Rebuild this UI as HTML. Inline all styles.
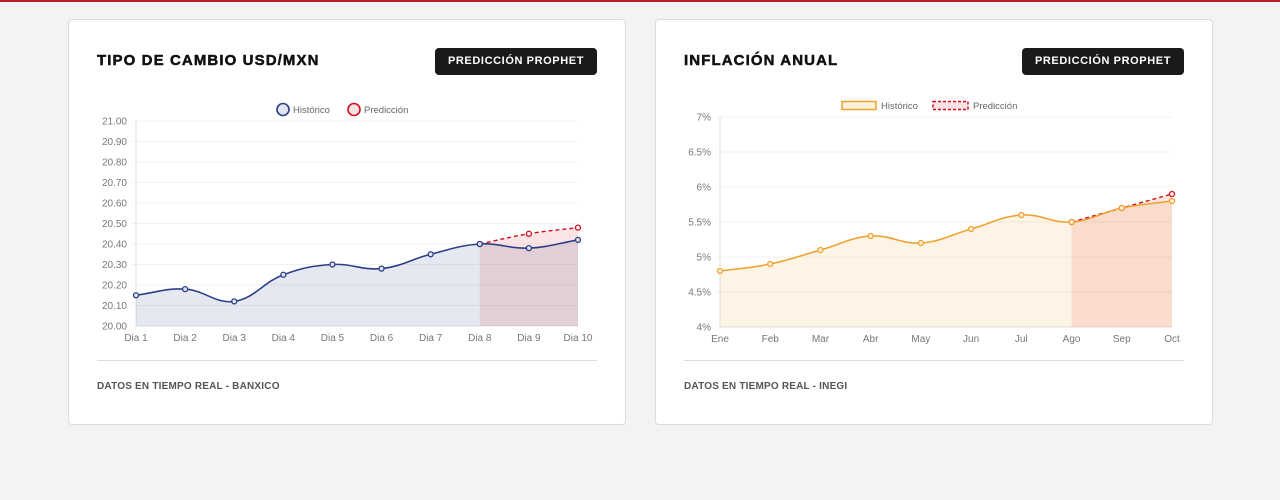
<!DOCTYPE html>
<html><head><meta charset="utf-8"><style>
body{margin:0;width:1280px;height:500px;background:#f3f3f3;font-family:"Liberation Sans",sans-serif;position:relative;overflow:hidden}
.topbar{position:absolute;left:0;top:0;width:1280px;height:2px;background:#b3202a}
.card{position:absolute;top:19px;width:556px;height:404px;background:#fff;border:1px solid #dcdcdc;border-radius:4px}
.title{position:absolute;left:28px;top:32px;font-weight:bold;font-size:15px;letter-spacing:1.1px;color:#111;-webkit-text-stroke:0.5px #111}
.btn{position:absolute;right:28px;top:28px;width:162px;height:27px;background:#1a1a1a;color:#fff;border-radius:4px;font-size:11px;font-weight:bold;letter-spacing:.6px;text-align:center;line-height:27px}
.hr{position:absolute;left:28px;right:28px;top:340px;height:1px;background:#ddd}
.foot{position:absolute;left:28px;top:361px;font-size:10px;font-weight:bold;color:#555;letter-spacing:.2px}
svg{position:absolute;left:0;top:0}
</style></head><body>
<div class="topbar"></div>
<div class="card" style="left:68px">
<div class="title">TIPO DE CAMBIO USD/MXN</div>
<div class="btn">PREDICCIÓN PROPHET</div>
<div class="hr"></div>
<div class="foot">DATOS EN TIEMPO REAL - BANXICO</div>
</div>
<div class="card" style="left:655px">
<div class="title">INFLACIÓN ANUAL</div>
<div class="btn">PREDICCIÓN PROPHET</div>
<div class="hr"></div>
<div class="foot">DATOS EN TIEMPO REAL - INEGI</div>
</div>
<svg id="s" width="1280" height="500"></svg>
<script>
const usdLabels=["Dia 1","Dia 2","Dia 3","Dia 4","Dia 5","Dia 6","Dia 7","Dia 8","Dia 9","Dia 10"];
const usdHist=[20.15,20.18,20.12,20.25,20.30,20.28,20.35,20.40,20.38,20.42];
const usdPred=[null,null,null,null,null,null,null,20.40,20.45,20.48];
const usdTicks=[20.00,20.10,20.20,20.30,20.40,20.50,20.60,20.70,20.80,20.90,21.00];
const infLabels=["Ene","Feb","Mar","Abr","May","Jun","Jul","Ago","Sep","Oct"];
const infHist=[4.8,4.9,5.1,5.3,5.2,5.4,5.6,5.5,5.7,5.8];
const infPred=[null,null,null,null,null,null,null,5.5,5.7,5.9];
const infTicks=[4,4.5,5,5.5,6,6.5,7];
const NS="http://www.w3.org/2000/svg",S=document.getElementById('s');
function el(t,a,txt){const e=document.createElementNS(NS,t);for(const k in a)e.setAttribute(k,a[k]);if(txt!=null)e.textContent=txt;S.appendChild(e);return e;}
function path(pts){let d=`M${pts[0][0]},${pts[0][1]}`;const t=0.4,n=pts.length;
 const cp=pts.map((p,i)=>{const a=pts[Math.max(0,i-1)],c=pts[Math.min(n-1,i+1)];
  const d01=Math.hypot(p[0]-a[0],p[1]-a[1]),d12=Math.hypot(c[0]-p[0],c[1]-p[1]);
  let s01=d01/(d01+d12||1),s12=d12/(d01+d12||1);const fa=t*s01,fb=t*s12;
  return{pr:[p[0]-fa*(c[0]-a[0]),p[1]-fa*(c[1]-a[1])],nx:[p[0]+fb*(c[0]-a[0]),p[1]+fb*(c[1]-a[1])]};});
 for(let i=1;i<n;i++)d+=` C${cp[i-1].nx[0]},${cp[i-1].nx[1]} ${cp[i].pr[0]},${cp[i].pr[1]} ${pts[i][0]},${pts[i][1]}`;return d;}
function chart(o){
 const x=i=>o.x0+(o.x1-o.x0)*i/(o.labels.length-1);
 const y=v=>o.y1-(o.y1-o.y0)*(v-o.min)/(o.max-o.min);
 o.ticks.forEach(t=>{const g=el('line',{x1:o.x0-4,x2:o.x1,y1:y(t),y2:y(t),stroke:'#f1f1f1'});
  const l=el('text',{x:o.x0-9,y:y(t)+3.5,'text-anchor':'end','font-size':10,fill:'#777'},o.fmt(t));});
 el('line',{x1:o.x0,x2:o.x0,y1:o.y0,y2:o.y1,stroke:'#e2e2e2'});
 el('line',{x1:o.x0,x2:o.x1,y1:o.y1,y2:o.y1,stroke:'#e2e2e2'});
 o.labels.forEach((t,i)=>{const l=el('text',{x:x(i),y:o.y1+15,'text-anchor':'middle','font-size':10,fill:'#777'},t);});
 const hp=o.hist.map((v,i)=>[x(i),y(v)]);
 const hd=path(hp);
 const ha=el('path',{d:hd+` L${x(o.hist.length-1)},${o.y1} L${x(0)},${o.y1} Z`,fill:o.hfill});
 const pi=o.pred.map((v,i)=>v==null?null:i).filter(i=>i!=null);
 const pp=pi.map(i=>[x(i),y(o.pred[i])]);const pd=path(pp);
 const pa=el('path',{d:pd+` L${pp[pp.length-1][0]},${o.y1} L${pp[0][0]},${o.y1} Z`,fill:o.pfill});
 const pl=el('path',{d:pd,fill:'none',stroke:'#d0101e','stroke-width':1.4,'stroke-dasharray':'4 3'});
 pp.forEach(p=>{const c=el('circle',{cx:p[0],cy:p[1],r:2.5,fill:'#fff',stroke:'#d0101e','stroke-width':1.3});});
 const hl=el('path',{d:hd,fill:'none',stroke:o.hc,'stroke-width':1.6});
 hp.forEach(p=>{const c=el('circle',{cx:p[0],cy:p[1],r:2.5,fill:o.hpf,stroke:o.hc,'stroke-width':1.3});});
 o.legend();
}
chart({labels:usdLabels,hist:usdHist,pred:usdPred,ticks:usdTicks,min:20,max:21,x0:136,x1:578,y0:121,y1:326,fmt:v=>v.toFixed(2),
 hc:'#2c3e88',hpf:'#dfe3f0',hfill:'rgba(44,62,136,0.12)',pfill:'rgba(210,30,45,0.12)',
 legend(){el('circle',{cx:283,cy:109.5,r:6,fill:'#e3e6f1',stroke:'#2c3e88','stroke-width':1.6});el('text',{x:293,y:113,'font-size':9.5,fill:'#666'},'Histórico');
  el('circle',{cx:354,cy:109.5,r:6,fill:'#fbe3e5',stroke:'#d0101e','stroke-width':1.6});el('text',{x:364,y:113,'font-size':9.5,fill:'#666'},'Predicción');}});
chart({labels:infLabels,hist:infHist,pred:infPred,ticks:infTicks,min:4,max:7,x0:720,x1:1172,y0:117,y1:327,fmt:v=>v+'%',
 hc:'#f0a22e',hpf:'#fdf0dd',hfill:'rgba(240,162,46,0.12)',pfill:'rgba(235,90,60,0.15)',
 legend(){el('rect',{x:842,y:101.5,width:34,height:8,fill:'#fdf0dd',stroke:'#f0a22e','stroke-width':1.5});el('text',{x:881,y:109,'font-size':9.5,fill:'#666'},'Histórico');
  el('rect',{x:933,y:101.5,width:35,height:8,fill:'#fbe3e5',stroke:'#d0101e','stroke-width':1.5,'stroke-dasharray':'3 2'});el('text',{x:973,y:109,'font-size':9.5,fill:'#666'},'Predicción');}});
</script>
</body></html>
